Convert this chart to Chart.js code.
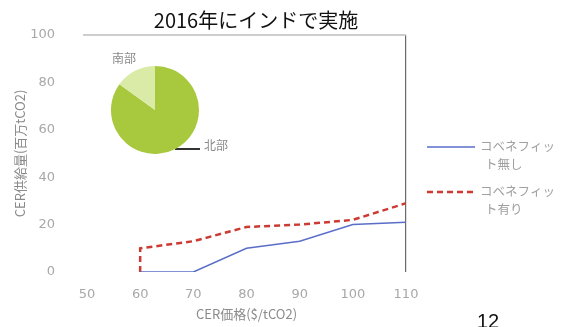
<!DOCTYPE html>
<html>
<head>
<meta charset="utf-8">
<script src="https://cdn.jsdelivr.net/npm/chart.js@4"></script>
<style>
  body{margin:0;background:#fff;}
  #wrap{position:relative;width:576px;height:327px;overflow:hidden;}
  #main{position:absolute;left:0;top:0;}
  #pie{position:absolute;left:111px;top:66px;}
</style>
</head>
<body>
<div id="wrap">
  <canvas id="main" width="576" height="327"></canvas>
  <canvas id="pie" width="88" height="88"></canvas>
</div>
<script>
// データ
var titulo = "2016年にインドで実施";
var xTicks = [50, 60, 70, 80, 90, 100, 110];
var yTicks = [0, 20, 40, 60, 80, 100];
var precioSin = [60, 70, 80, 90, 100, 110];
var ofertaSin = [0, 0, 10, 13, 20, 21];
var precioCon = [60, 60, 70, 80, 90, 100, 110];
var ofertaCon = [0, 10, 13, 19, 20, 22, 29];
var serieNombres = ["コベネフィット無し", "コベネフィット有り"];
var leyendaLineas = [["コベネフィッ", "ト無し"], ["コベネフィッ", "ト有り"]];
var pieLabels = ["北部", "南部"];
var pieValues = [85, 15];
var pagina = "12";

function puntos(xs, ys){
    return xs.map(function(x, i){ return {x: x, y: ys[i]}; });
}

var gris = '#8a8a8a';
var azul = '#5a6ec8';
var rojo = '#cc3b33';

var textos = {
    id: 'textos',
    beforeDatasetsDraw: function(chart){
        // linea superior (100)
        var c = chart.ctx, a = chart.chartArea;
        c.save();
        c.strokeStyle = '#bdbdbd';
        c.lineWidth = 1.5;
        c.beginPath();
        c.moveTo(a.left - 4, a.top);
        c.lineTo(a.right, a.top);
        c.stroke();
        c.restore();
    },
    afterDraw: function(chart){
        var c = chart.ctx;
        c.save();
        // titulo
        c.fillStyle = '#111';
        c.font = '20px "Noto Sans CJK JP", sans-serif';
        c.textAlign = 'center';
        c.textBaseline = 'middle';
        c.fillText(titulo, 256, 20);
        // pagina
        c.textAlign = 'left';
        c.textBaseline = 'top';
        c.font = '20px "Liberation Sans", sans-serif';
        c.fillText(pagina, 477, 312);
        // leyenda
        c.textBaseline = 'middle';
        c.font = '12.5px "Noto Sans CJK JP", sans-serif';
        var ys = [147, 192];
        for (var i = 0; i < 2; i++) {
            c.beginPath();
            c.strokeStyle = i == 0 ? azul : rojo;
            c.lineWidth = i == 0 ? 1.5 : 2.5;
            c.setLineDash(i == 0 ? [] : [6, 4]);
            c.moveTo(427, ys[i]);
            c.lineTo(475, ys[i]);
            c.stroke();
            c.setLineDash([]);
            c.fillStyle = '#a0a0a0';
            c.fillText(leyendaLineas[i][0], 480, ys[i] - 1);
            c.fillText(leyendaLineas[i][1], 485, ys[i] + 17);
        }
        // etiquetas del pastel
        c.font = '12px "Noto Sans CJK JP", sans-serif';
        c.fillStyle = gris;
        c.fillText(pieLabels[1], 112, 58);
        c.fillText(pieLabels[0], 204, 145);
        c.beginPath();
        c.strokeStyle = '#333';
        c.lineWidth = 2;
        c.moveTo(175, 149);
        c.lineTo(200, 149);
        c.stroke();
        c.restore();
    }
};

new Chart(document.getElementById('main').getContext('2d'), {
    type: 'line',
    data: {
        datasets: [{
            label: serieNombres[0],
            data: puntos(precioSin, ofertaSin),
            borderColor: azul,
            borderWidth: 1.5,
            pointRadius: 0,
            fill: false
        }, {
            label: serieNombres[1],
            data: puntos(precioCon, ofertaCon),
            borderColor: rojo,
            borderWidth: 2.5,
            borderDash: [6, 4],
            pointRadius: 0,
            fill: false
        }]
    },
    options: {
        responsive: false,
        animation: false,
        layout: {padding: {top: 35, right: 170, left: 0, bottom: 0}},
        plugins: {legend: {display: false}, tooltip: {enabled: false}},
        scales: {
            x: {
                type: 'linear', min: 50, max: 110,
                afterBuildTicks: function(s){ s.ticks = xTicks.map(function(v){ return {value: v}; }); },
                afterFit: function(s){ s.height = 55; },
                border: {display: false},
                grid: {
                    drawTicks: false,
                    color: function(ctx){ return ctx.tick && ctx.tick.value == 110 ? '#6a6a6a' : 'rgba(0,0,0,0)'; },
                    lineWidth: 1.2
                },
                ticks: {color: '#a8a8a8', padding: 15, font: {family: 'DejaVu Sans', size: 13}},
                title: {display: true, text: 'CER価格($/tCO2)', color: gris, padding: {top: 0, bottom: 5},
                        font: {family: 'Noto Sans CJK JP', size: 13}}
            },
            y: {
                min: 0, max: 100,
                afterBuildTicks: function(s){ s.ticks = yTicks.map(function(v){ return {value: v}; }); },
                afterFit: function(s){ s.width = 87; },
                border: {display: false},
                grid: {display: false},
                ticks: {color: '#a8a8a8', padding: 24, font: {family: 'DejaVu Sans', size: 13}},
                title: {display: true, text: 'CER供給量(百万tCO2)', color: gris, padding: {top: 12, bottom: 0},
                        font: {family: 'Noto Sans CJK JP', size: 13}}
            }
        }
    },
    plugins: [textos]
});

new Chart(document.getElementById('pie').getContext('2d'), {
    type: 'pie',
    data: {
        labels: pieLabels,
        datasets: [{
            data: pieValues,
            backgroundColor: ['#a8c93e', '#d9eba6'],
            borderWidth: 0
        }]
    },
    options: {
        responsive: false,
        animation: false,
        plugins: {legend: {display: false}, tooltip: {enabled: false}}
    }
});
</script>
</body>
</html>
